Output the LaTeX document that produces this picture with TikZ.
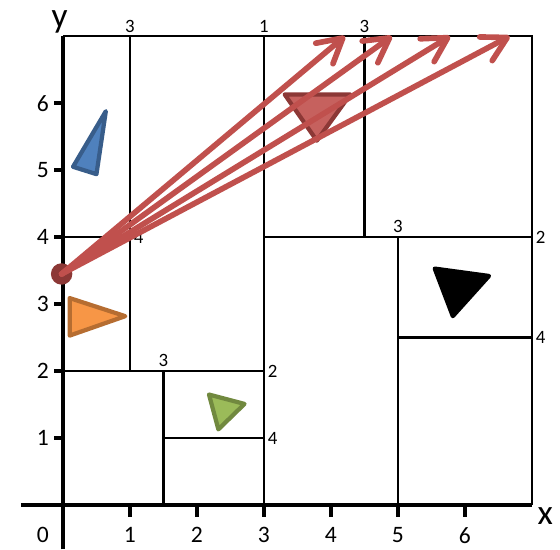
\documentclass[tikz,border=0pt]{standalone}
\usepackage{fontspec}
\setmainfont{Carlito}
\usetikzlibrary{arrows.meta}
\definecolor{kdblue}{RGB}{79,129,189}
\definecolor{kdbluedark}{RGB}{56,93,138}
\definecolor{kdorange}{RGB}{247,150,70}
\definecolor{kdorangedark}{RGB}{182,109,49}
\definecolor{kdgreen}{RGB}{155,187,89}
\definecolor{kdgreendark}{RGB}{113,137,63}
\definecolor{kdred}{RGB}{192,80,77}
\definecolor{kdreddark}{RGB}{140,56,54}
\tikzset{
  kdsplit/.style={line width=1.1pt},
  kdaxis/.style={line width=1.5pt},
  kdnum/.style={font=\fontsize{8}{9}\selectfont, inner sep=1.5pt},
  kdtick/.style={font=\fontsize{10}{12}\selectfont, inner sep=0pt},
  kdname/.style={font=\fontsize{15}{17}\selectfont, inner sep=0pt},
  kdtri/.style={line width=1.8pt, line join=round},
  kdarr/.style={-{Straight Barb[length=3.6mm, width=4mm, round]}, line width=2.4pt, draw=kdred, line cap=round}
}

\begin{document}
\begin{tikzpicture}
  \useasboundingbox (-0.94,-0.66) rectangle (7.42,7.54);
  % cells
  \draw[kdsplit] (0,7) -- (7,7) -- (7,0);
  \draw[kdsplit] (3,0) -- (3,7);
  \draw[kdsplit] (0,2) -- (3,2);
  \draw[kdsplit] (1,2) -- (1,7);
  \draw[kdsplit] (0,4) -- (1,4);
  \draw[kdsplit] (1.5,0) -- (1.5,2);
  \draw[kdsplit] (1.5,1) -- (3,1);
  \draw[kdsplit] (3,4) -- (7,4);
  \draw[kdsplit] (4.5,4) -- (4.5,7);
  \draw[kdsplit] (5,0) -- (5,4);
  \draw[kdsplit] (5,2.5) -- (7,2.5);
  % split depths
  \node[kdnum, above] (d1) at (3,7) {1};
  \node[kdnum, right] (d2a) at (3,2) {2};
  \node[kdnum, right] (d2b) at (7,4) {2};
  \node[kdnum, above] (d3a) at (1,7) {3};
  \node[kdnum, above] (d3b) at (1.5,2) {3};
  \node[kdnum, above] (d3c) at (4.5,7) {3};
  \node[kdnum, above] (d3d) at (5,4) {3};
  \node[kdnum, right] (d4a) at (1,4) {4};
  \node[kdnum, right] (d4b) at (3,1) {4};
  \node[kdnum, right] (d4c) at (7,2.5) {4};
  % axes
  \draw[kdaxis] (-0.63,0) -- (7,0);
  \draw[kdaxis] (0,-0.66) -- (0,7);
  \foreach \i in {1,...,6} {
    \draw[kdaxis] (\i,0) -- (\i,-0.18);
    \draw[kdaxis] (0,\i) -- (-0.13,\i);
    \node[kdtick] (xl\i) at (\i,-0.45) {\i};
    \node[kdtick] (yl\i) at (-0.3,\i) {\i};
  }
  \node[kdtick] (zero) at (-0.3,-0.45) {0};
  \node[kdname] (xname) at (7.2,-0.16) {x};
  \node[kdname] (yname) at (-0.05,7.22) {y};
  % objects
  \draw[kdtri, fill=kdblue, draw=kdbluedark] (0.64,5.88) -- (0.15,5.05) -- (0.5,4.94) -- cycle;
  \draw[kdtri, fill=kdorange, draw=kdorangedark] (0.1,3.09) -- (0.93,2.82) -- (0.1,2.53) -- cycle;
  \draw[kdtri, fill=kdgreen, draw=kdgreendark] (2.18,1.65) -- (2.71,1.51) -- (2.32,1.13) -- cycle;
  \draw[kdtri, fill=black, draw=black] (5.55,3.53) -- (6.36,3.42) -- (5.82,2.82) -- cycle;
  \draw[kdtri, fill=kdred, fill opacity=.9, draw=kdreddark] (3.31,6.13) -- (4.29,6.13) -- (3.79,5.44) -- cycle;
  % rays
  \node[circle, fill=kdreddark, minimum size=.32cm, inner sep=0pt] (src) at (-0.02,3.45) {};
  \coordinate (tipA) at (4.21,7);
  \coordinate (tipB) at (4.91,7);
  \coordinate (tipC) at (5.78,7);
  \coordinate (tipD) at (6.67,7);
  \foreach \t in {tipA,tipB,tipC,tipD}
    \draw[kdarr] (src.center) -- (\t);
\end{tikzpicture}
\end{document}
